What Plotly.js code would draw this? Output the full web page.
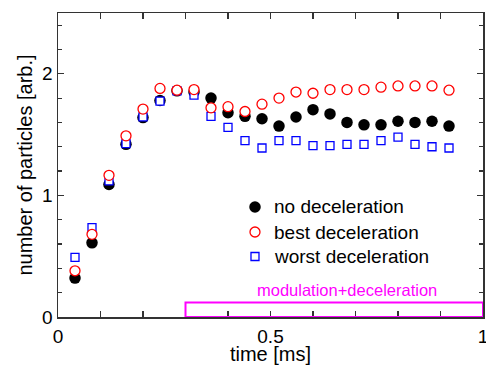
<!DOCTYPE html>
<html>
<head>
<meta charset="utf-8">
<script src="https://cdn.plot.ly/plotly-3.0.1.min.js"></script>
<style>html,body{margin:0;padding:0;background:#fff;}#chart{width:486px;height:365px;}</style>
</head>
<body>
<div id="chart"></div>
<script>
// time [ms]
const time = [0.04, 0.08, 0.12, 0.16, 0.20, 0.24, 0.28, 0.32, 0.36, 0.40, 0.44, 0.48,
              0.52, 0.56, 0.60, 0.64, 0.68, 0.72, 0.76, 0.80, 0.84, 0.88, 0.92];
const noDecel = [0.32, 0.61, 1.09, 1.42, 1.64, 1.78, 1.86, 1.85, 1.80, 1.68, 1.65, 1.63,
                 1.57, 1.645, 1.705, 1.67, 1.60, 1.58, 1.58, 1.61, 1.60, 1.61, 1.57];
const bestDecel = [0.38, 0.68, 1.165, 1.49, 1.71, 1.88, 1.865, 1.87, 1.72, 1.73, 1.69, 1.75,
                   1.80, 1.85, 1.84, 1.87, 1.87, 1.87, 1.89, 1.90, 1.90, 1.90, 1.865];
const worstDecel = [0.49, 0.735, 1.12, 1.425, 1.645, 1.775, 1.86, 1.825, 1.65, 1.56, 1.45, 1.39,
                    1.45, 1.45, 1.41, 1.41, 1.42, 1.42, 1.45, 1.48, 1.42, 1.40, 1.39];
const seriesNames = ['no deceleration', 'best deceleration', 'worst deceleration'];
const modWindow = [0.3, 1.0];
const modLabel = 'modulation+deceleration';
const xTickVals = [0, 0.5, 1];
const xTickText = ['0', '0.5', '1'];
const yTickVals = [0, 1, 2];
const yTickText = ['0', '1', '2'];

const FONT = 'Liberation Sans, Arial, sans-serif';
const AX = '#333333';

const traces = [
  {x: time, y: noDecel, name: seriesNames[0], type: 'scatter', mode: 'markers',
   marker: {symbol: 'circle', size: 11.5, color: '#000000', line: {width: 0}}},
  {x: time, y: worstDecel, name: seriesNames[2], type: 'scatter', mode: 'markers',
   marker: {symbol: 'square', size: 8, color: '#ffffff', line: {color: '#0000ff', width: 1.3}}},
  {x: time, y: bestDecel, name: seriesNames[1], type: 'scatter', mode: 'markers',
   marker: {symbol: 'circle', size: 10, color: '#ffffff', line: {color: '#ff0000', width: 1.3}}}
];

// hand-drawn legend (key glyphs + labels), placed in paper coordinates
const legX = 0.4635, legTextX = 0.5035;
const legRows = [0.362, 0.2796, 0.199];
const legShapes = [
  {type: 'circle', xref: 'paper', yref: 'paper', xsizemode: 'pixel', ysizemode: 'pixel',
   xanchor: legX, yanchor: legRows[0], x0: -5.75, x1: 5.75, y0: -5.75, y1: 5.75,
   fillcolor: '#000000', line: {width: 0}},
  {type: 'circle', xref: 'paper', yref: 'paper', xsizemode: 'pixel', ysizemode: 'pixel',
   xanchor: legX, yanchor: legRows[1], x0: -5, x1: 5, y0: -5, y1: 5,
   fillcolor: '#ffffff', line: {color: '#ff0000', width: 1.3}},
  {type: 'rect', xref: 'paper', yref: 'paper', xsizemode: 'pixel', ysizemode: 'pixel',
   xanchor: legX, yanchor: legRows[2], x0: -4, x1: 4, y0: -4, y1: 4,
   fillcolor: '#ffffff', line: {color: '#0000ff', width: 1.3}}
];
const legAnn = seriesNames.map((n, i) => ({
  xref: 'paper', yref: 'paper', x: legTextX, y: legRows[i], xanchor: 'left', yanchor: 'middle',
  text: n, showarrow: false, font: {family: FONT, size: 19, color: '#000'}
}));

const layout = {
  width: 486, height: 365,
  margin: {l: 58, r: 3, t: 13, b: 48},
  paper_bgcolor: '#ffffff', plot_bgcolor: '#ffffff',
  font: {family: FONT, color: '#000000'},
  showlegend: false,
  xaxis: {range: [0, 1], showgrid: false, zeroline: false,
          showline: true, linecolor: AX, linewidth: 1.5, mirror: 'allticks',
          ticks: 'inside', ticklen: 6, tickwidth: 1.2, tickcolor: AX,
          tickmode: 'array', tickvals: xTickVals, ticktext: xTickText,
          ticklabeloverflow: 'allow', ticklabelstandoff: 2,
          minor: {dtick: 0.1, tick0: 0, ticks: 'inside', ticklen: 6, tickwidth: 1.2, tickcolor: AX, showgrid: false},
          tickfont: {family: FONT, size: 19, color: '#000'},
          title: {text: 'time [ms]', font: {family: FONT, size: 20, color: '#000'}, standoff: 4}},
  yaxis: {range: [0, 2.5], showgrid: false, zeroline: false,
          showline: true, linecolor: AX, linewidth: 1.5, mirror: 'allticks',
          ticks: 'inside', ticklen: 6, tickwidth: 1.2, tickcolor: AX,
          tickmode: 'array', tickvals: yTickVals, ticktext: yTickText,
          minor: {dtick: 0.2, tick0: 0, ticks: 'inside', ticklen: 4, tickwidth: 1.2, tickcolor: AX, showgrid: false},
          tickfont: {family: FONT, size: 19, color: '#000'},
          title: {text: 'number of particles [arb.]', font: {family: FONT, size: 20, color: '#000'}, standoff: 4}},
  shapes: [{type: 'rect', xref: 'x', yref: 'y', x0: modWindow[0], x1: modWindow[1], y0: 0, y1: 0.12,
            line: {color: '#ff00ff', width: 2}, fillcolor: 'rgba(0,0,0,0)'}].concat(legShapes),
  annotations: [{xref: 'x', yref: 'y', x: 0.68, y: 0.22, text: modLabel, showarrow: false,
                 font: {family: FONT, size: 16.5, color: '#ff00ff'}}].concat(legAnn)
};

Plotly.newPlot('chart', traces, layout, {displayModeBar: false, staticPlot: true});
</script>
</body>
</html>
